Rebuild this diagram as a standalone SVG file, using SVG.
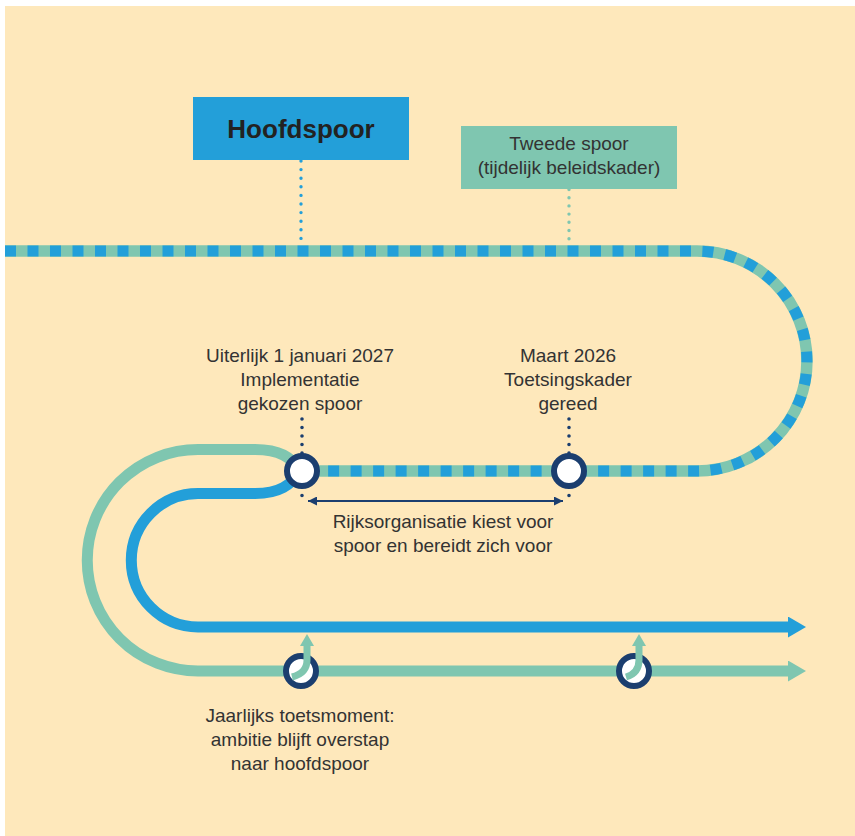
<svg xmlns="http://www.w3.org/2000/svg" width="855" height="836" viewBox="0 0 855 836">
<style>
.t{font-family:"Liberation Sans",Arial,sans-serif;font-size:19px;fill:#333;text-anchor:middle}
.b{font-family:"Liberation Sans",Arial,sans-serif;font-size:26px;font-weight:bold;fill:#222;text-anchor:middle}
.node{fill:#fff;stroke:#1B3E6F;stroke-width:6}
.dotn{stroke:#1B3E6F;stroke-width:3.6;stroke-linecap:round;stroke-dasharray:0 8.5;fill:none}
</style>
<defs>
<marker id="ab" markerUnits="userSpaceOnUse" markerWidth="18" markerHeight="21" refX="0" refY="10.5" orient="auto" viewBox="0 0 18 21"><path d="M0,0 L18,10.5 L0,21 z" fill="#239FD9"/></marker>
<marker id="ag" markerUnits="userSpaceOnUse" markerWidth="18" markerHeight="21" refX="0" refY="10.5" orient="auto" viewBox="0 0 18 21"><path d="M0,0 L18,10.5 L0,21 z" fill="#7FC6B0"/></marker>
<marker id="au" markerUnits="userSpaceOnUse" markerWidth="12" markerHeight="14" refX="0" refY="7" orient="auto" viewBox="0 0 12 14"><path d="M0,0 L12,7 L0,14 z" fill="#7FC6B0"/></marker>
<marker id="an" markerUnits="userSpaceOnUse" markerWidth="9" markerHeight="9" refX="9" refY="4.5" orient="auto-start-reverse" viewBox="0 0 9 9"><path d="M0,0 L9,4.5 L0,9 z" fill="#1B3E6F"/></marker>
</defs>
<rect x="5" y="6" width="850" height="830" fill="#FEE8BB"/>

<g id="connectors">
  <!-- lower tracks -->
  <path d="M302,471 C290,457 280,449.5 255,449.5 H198 A110.75,110.75 0 0 0 198,671 H788" fill="none" stroke="#7FC6B0" stroke-width="11" marker-end="url(#ag)"/>
  <path d="M302,471 C290,485 280,493.5 255,493.5 H198 A66.75,66.75 0 0 0 198,627 H788" fill="none" stroke="#239FD9" stroke-width="11" marker-end="url(#ab)"/>
  <!-- main dashed track -->
  <path d="M5,251 H697 A110,110 0 0 1 697,471 H302" fill="none" stroke="#7FC6B0" stroke-width="11.5"/>
  <path d="M5,251 H697 A110,110 0 0 1 697,471 H302" fill="none" stroke="#239FD9" stroke-width="11" stroke-dasharray="11 11.5"/>
  <!-- dotted leaders -->
  <line x1="301" y1="161" x2="301" y2="246" stroke="#239FD9" stroke-width="3.4" stroke-linecap="round" stroke-dasharray="0 8.6"/>
  <line x1="569" y1="189.5" x2="569" y2="246" stroke="#7FC6B0" stroke-width="3.4" stroke-linecap="round" stroke-dasharray="0 8.2"/>
  <line class="dotn" x1="302" y1="419" x2="302" y2="496"/>
  <line class="dotn" x1="569" y1="419" x2="569" y2="496"/>
  <!-- double arrow -->
  <line x1="308" y1="501" x2="563" y2="501" stroke="#1B3E6F" stroke-width="2" marker-start="url(#an)" marker-end="url(#an)"/>
</g>

<g id="box-hoofdspoor">
  <rect x="193" y="97" width="216" height="63" fill="#239FD9"/>
  <text class="b" x="301" y="138">Hoofdspoor</text>
</g>
<g id="box-tweede">
  <rect x="461" y="126" width="216" height="63" fill="#7FC6B0"/>
  <text class="t" x="569" y="150">Tweede spoor</text>
  <text class="t" x="569" y="174">(tijdelijk beleidskader)</text>
</g>

<g id="node-2027">
  <circle class="node" cx="302" cy="471" r="15"/>
</g>
<g id="node-2026">
  <circle class="node" cx="569" cy="471" r="15"/>
</g>
<g id="node-toets1">
  <circle class="node" cx="301" cy="671" r="15"/>
  <path d="M292,677 C300,675 307,670 307,660 V646" fill="none" stroke="#7FC6B0" stroke-width="7" marker-end="url(#au)"/>
</g>
<g id="node-toets2">
  <circle class="node" cx="634" cy="671" r="15"/>
  <path d="M626,677 C633,675 639,670 639,660 V646" fill="none" stroke="#7FC6B0" stroke-width="7" marker-end="url(#au)"/>
</g>

<g id="label-2027">
  <text class="t" x="300" y="362">Uiterlijk 1 januari 2027</text>
  <text class="t" x="300" y="386">Implementatie</text>
  <text class="t" x="300" y="410">gekozen spoor</text>
</g>
<g id="label-2026">
  <text class="t" x="568" y="362">Maart 2026</text>
  <text class="t" x="568" y="386">Toetsingskader</text>
  <text class="t" x="568" y="410">gereed</text>
</g>
<g id="label-rijks">
  <text class="t" x="443" y="528">Rijksorganisatie kiest voor</text>
  <text class="t" x="443" y="552">spoor en bereidt zich voor</text>
</g>
<g id="label-jaarlijks">
  <text class="t" x="300" y="722">Jaarlijks toetsmoment:</text>
  <text class="t" x="300" y="746">ambitie blijft overstap</text>
  <text class="t" x="300" y="770">naar hoofdspoor</text>
</g>
</svg>
